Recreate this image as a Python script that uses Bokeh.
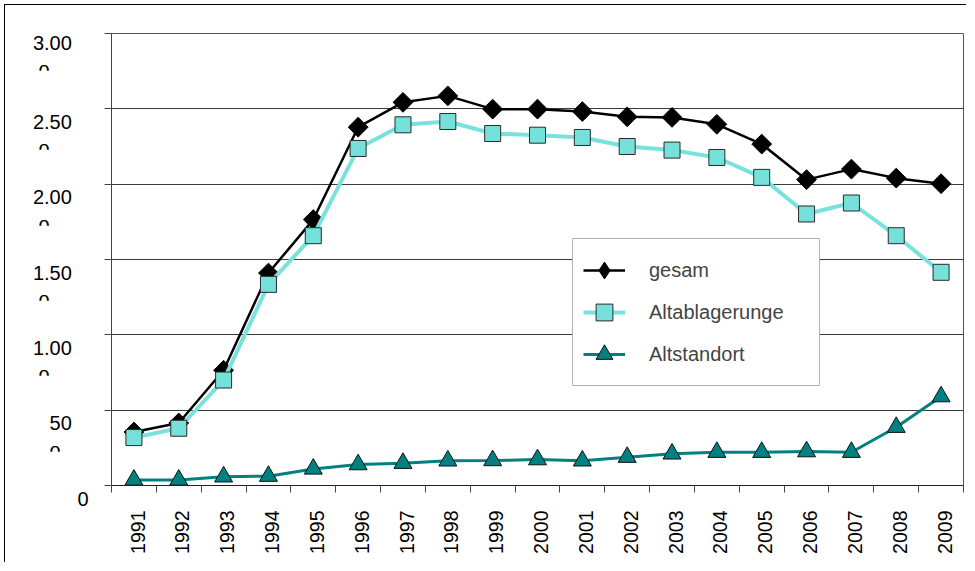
import numpy as np
from bokeh.plotting import figure
from bokeh.models import Range1d, FixedTicker, Legend, LegendItem
from bokeh.embed import file_html
from bokeh.resources import INLINE

# ---- data ----
years = ["1991", "1992", "1993", "1994", "1995", "1996", "1997", "1998", "1999", "2000",
         "2001", "2002", "2003", "2004", "2005", "2006", "2007", "2008", "2009"]
gesam = [355, 415, 765, 1410, 1765, 2378, 2543, 2586, 2498, 2498,
         2482, 2447, 2443, 2397, 2266, 2030, 2100, 2040, 2003]
altablagerungen = [318, 380, 700, 1335, 1658, 2237, 2394, 2416, 2336, 2325,
                   2310, 2250, 2226, 2177, 2045, 1802, 1875, 1658, 1415]
altstandort = [37, 37, 58, 62, 110, 139, 148, 164, 166, 172,
               164, 188, 210, 221, 221, 225, 221, 387, 590]
y_ticks = [0, 500, 1000, 1500, 2000, 2500, 3000]
y_tick_labels = ["0", "50", "1.00", "1.50", "2.00", "2.50", "3.00"]
series_names = ["gesam", "Altablagerunge", "Altstandort"]

FONT = "Liberation Sans"
TURQ_LINE = "#7ae2dc"
TURQ_FILL = "#76e0da"
TEAL = "#008080"

n = len(years)
x = np.arange(n) + 0.5

p = figure(width=962, height=558, x_range=Range1d(0, n), y_range=Range1d(0, 3000),
           output_backend="svg", toolbar_location=None,
           min_border_left=106, min_border_right=4, min_border_top=28, min_border_bottom=78)
p.styles = {"border-left": "1px solid #000", "border-top": "1px solid #000",
            "margin-left": "4px", "margin-top": "4px"}
p.background_fill_color = "white"
p.border_fill_color = "white"
p.outline_line_color = "#555555"
p.outline_line_width = 1

# series: gesam
g_line = p.line(x, gesam, line_color="black", line_width=2.5)
g_pts = p.scatter(x, gesam, marker="square", angle=np.pi / 4, size=14,
                  fill_color="black", line_color="black")
g_key = p.scatter([np.nan], [np.nan], marker="diamond", fill_color="black", line_color="black")
# Altablagerungen
a_line = p.line(x, altablagerungen, line_color=TURQ_LINE, line_width=4)
a_pts = p.scatter(x, altablagerungen, marker="square", size=16,
                  fill_color=TURQ_FILL, line_color="#2a2a2a", line_width=1)
# Altstandort
s_line = p.line(x, altstandort, line_color=TEAL, line_width=3)
s_pts = p.scatter(x, altstandort, marker="triangle", size=18,
                  fill_color=TEAL, line_color="#111111", line_width=1)

# ---- x axis: boundaries as ticks, labels near category centres ----
label_pos = [round(float(v) + 0.08, 2) for v in x]
xa = p.xaxis[0]
xa.ticker = FixedTicker(ticks=label_pos, minor_ticks=list(range(n + 1)))
xa.major_label_overrides = {v: yr for v, yr in zip(label_pos, years)}
xa.major_label_orientation = np.pi / 2
xa.major_tick_line_color = None
xa.major_tick_out = 7
xa.major_tick_in = 0
xa.minor_tick_out = 7
xa.minor_tick_in = 0
xa.minor_tick_line_color = "#444444"
xa.axis_line_color = "#222222"
xa.major_label_standoff = 18
xa.major_label_text_font = FONT
xa.major_label_text_font_size = "19.5px"
xa.major_label_text_color = "black"

# ---- y axis: wrapped labels ("3.00" / clipped "0") ----
FIG, PUNC = "\u2007", "\u2008"      # digit-wide and dot-wide spaces


def text_w(s):
    return sum(0.278 if c in ".\u2008" else 0.556 for c in s)


def filler(width_em):
    k = int(width_em // 0.556)
    rest = width_em - k * 0.556
    return FIG * k + (PUNC if rest > 0.139 else "")


pad = FIG + PUNC
labels = {}
for t, lab in zip(y_ticks, y_tick_labels):
    if t == 0:
        labels[t] = "\n" + lab
    else:
        arc_fill = filler(text_w(pad) + text_w(lab) - 0.278 - 0.28)
        lead = "\n" if t == max(y_ticks) else "\n\n"
        labels[t] = lead + lab + pad + "\n\u1d16" + arc_fill

ya = p.yaxis[0]
ya.ticker = FixedTicker(ticks=y_ticks)
ya.major_label_overrides = labels
ya.major_tick_out = 7
ya.major_tick_in = 0
ya.minor_tick_line_color = None
ya.axis_line_color = "#444444"
ya.major_tick_line_color = "#444444"
ya.major_label_standoff = 16
ya.major_label_text_font = FONT
ya.major_label_text_font_size = "20px"
ya.major_label_text_color = "black"

p.xgrid.grid_line_color = None
p.ygrid.grid_line_color = "#3a3a3a"
p.ygrid.grid_line_width = 1

legend = Legend(items=[LegendItem(label=series_names[0], renderers=[g_line, g_key]),
                       LegendItem(label=series_names[1], renderers=[a_line, a_pts]),
                       LegendItem(label=series_names[2], renderers=[s_line, s_pts])],
                location=(461, 99), padding=10, spacing=0, margin=0,
                glyph_width=42, glyph_height=42, label_standoff=24, label_width=160,
                label_text_font=FONT, label_text_font_size="20px",
                border_line_color="#666666", border_line_width=1,
                background_fill_color="white", background_fill_alpha=1)
p.add_layout(legend)

open("out.html", "w").write(file_html(p, INLINE))
